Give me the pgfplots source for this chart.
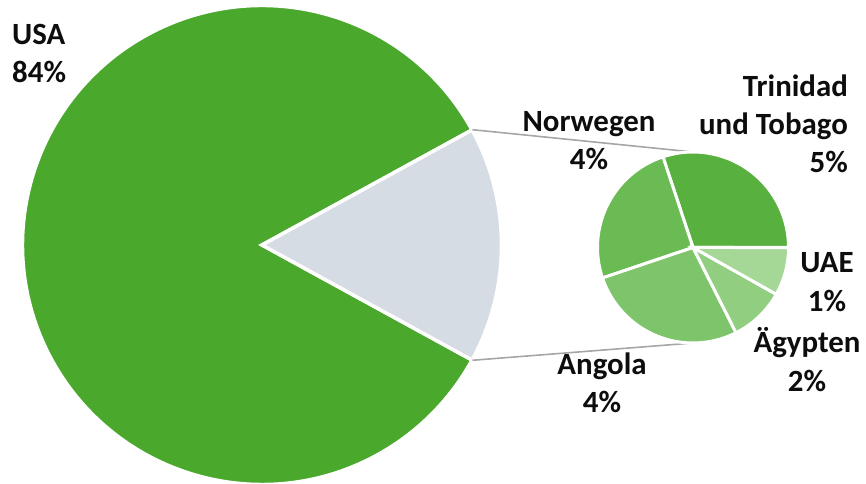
\documentclass[border=0pt]{standalone}
\usepackage{pgfplots}
\usepackage{pgfplotstable}
\pgfplotsset{compat=1.18}
\usepackage{fontspec}
\setmainfont{Carlito}
\definecolor{gBig}{HTML}{4AA92C}
\definecolor{gOther}{HTML}{D6DCE4}
\definecolor{c0}{HTML}{58B13F}
\definecolor{c1}{HTML}{6BBB54}
\definecolor{c2}{HTML}{7EC46A}
\definecolor{c3}{HTML}{92CE80}
\definecolor{c4}{HTML}{A5D796}
\definecolor{conn}{HTML}{A6A6A6}
\definecolor{txt}{HTML}{0D0D0D}
% big pie: USA and the rest
\pgfplotstableread{
name value
USA 84.05
Other 15.95
}\bigtab
% small pie (the rest, split)
\pgfplotstableread{
name value
Trinidad 4.8
Norwegen 4.0
Angola 4.35
Aegypten 1.5
UAE 1.3
}\smalltab
\begin{document}
\begin{tikzpicture}
\begin{axis}[
  x=1bp, y=1bp, xmin=0, xmax=866, ymin=0, ymax=484,
  hide axis, clip=false, scale only axis,
]
% ---- big pie
\pgfplotstablegetelem{1}{value}\of\bigtab
\pgfmathsetmacro\half{\pgfplotsretval*3.6/2}
\pgfmathsetmacro\usaend{360-\half}
\edef\cmd{\noexpand\fill[gBig, draw=white, line width=3.5bp]
  (axis cs:262,239) -- ++(\half:239.5bp) arc[start angle=\half, end angle=\usaend, radius=239.5bp] -- cycle;}\cmd
\edef\cmd{\noexpand\fill[gOther, draw=white, line width=3.5bp]
  (axis cs:262,239) -- ++(-\half:239.5bp) arc[start angle=-\half, end angle=\half, radius=239.5bp] -- cycle;}\cmd
% connectors
\edef\cmd{\noexpand\draw[conn, line width=1.6bp] (axis cs:262,239) ++(\half:240bp) -- (axis cs:693,332);}\cmd
\edef\cmd{\noexpand\draw[conn, line width=1.6bp] (axis cs:262,239) ++(-\half:240bp) -- (axis cs:693,141);}\cmd
% ---- small pie
\def\tot{0}
\pgfplotsforeachungrouped \i in {0,...,4}{%
  \pgfplotstablegetelem{\i}{value}\of\smalltab
  \pgfmathsetmacro\tot{\tot+\pgfplotsretval}%
}
\def\acc{0}
\pgfplotsforeachungrouped \i in {0,...,4}{%
  \pgfplotstablegetelem{\i}{value}\of\smalltab
  \pgfmathsetmacro\b{\acc+\pgfplotsretval/\tot*360}%
  \edef\cmd{\noexpand\fill[c\i, draw=white, line width=3bp]
    (axis cs:693,236.5) -- ++(\acc:95.5bp) arc[start angle=\acc, end angle=\b, radius=95.5bp] -- cycle;}\cmd
  \global\let\acc\b
}
% ---- labels
\tikzset{lab/.style={font=\fontsize{31}{38}\selectfont\bfseries, text=txt, inner sep=0pt}}
\node[lab, anchor=base west] at (axis cs:12,439) {USA};
\node[lab, anchor=base west] at (axis cs:12,401) {84\%};
\node[lab, anchor=base] at (axis cs:589,352) {Norwegen};
\node[lab, anchor=base] at (axis cs:589,314) {4\%};
\node[lab, anchor=base east] at (axis cs:848,387) {Trinidad};
\node[lab, anchor=base east] at (axis cs:848,349) {und Tobago};
\node[lab, anchor=base east] at (axis cs:848,311) {5\%};
\node[lab, anchor=base] at (axis cs:827,211) {UAE};
\node[lab, anchor=base] at (axis cs:827,172) {1\%};
\node[lab, anchor=base] at (axis cs:807,131) {Ägypten};
\node[lab, anchor=base] at (axis cs:807,92) {2\%};
\node[lab, anchor=base] at (axis cs:602,109) {Angola};
\node[lab, anchor=base] at (axis cs:602,71) {4\%};
\end{axis}
\pgfresetboundingbox
\path[use as bounding box] (current axis.south west) rectangle (current axis.north east);
\end{tikzpicture}
\end{document}
